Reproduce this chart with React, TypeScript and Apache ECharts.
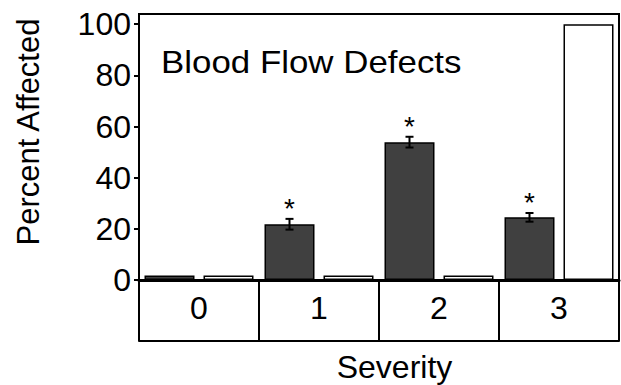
import React, { useEffect, useRef } from "react";
import * as echarts from "echarts";

const categories = ["0", "1", "2", "3"];
const darkValues = [1.8, 21.8, 53.9, 24.5];
const darkErrors = [0, 2.1, 2.1, 1.7];
const significant = [false, true, true, true];
const whiteValues = [1.8, 1.8, 1.8, 100];

const FONT = "'Liberation Sans', Arial, Helvetica, sans-serif";
const BAR_W = 50;
const GAP_RATIO = 0.18;

export default function App() {
  const ref = useRef<HTMLDivElement>(null);
  useEffect(() => {
    if (!ref.current) return;
    const chart = echarts.init(ref.current, undefined, { renderer: "svg" });
    const errData = darkValues.map((v, i) => [i, v, darkErrors[i], significant[i] ? 1 : 0]);
    chart.setOption({
      animation: false,
      grid: {
        left: 139,
        right: 2,
        top: 14,
        bottom: 105,
        show: true,
        borderColor: "#000",
        borderWidth: 2,
        backgroundColor: "transparent",
      },
      xAxis: [
        {
          type: "category",
          data: categories,
          axisLine: { show: true, lineStyle: { color: "#000", width: 3 } },
          axisTick: {
            show: true,
            interval: 0,
            alignWithLabel: false,
            inside: false,
            length: 61,
            lineStyle: { color: "#000", width: 2 },
          },
          axisLabel: { fontSize: 32, color: "#000", fontFamily: FONT, margin: 12 },
          splitLine: { show: false },
        },
        {
          type: "category",
          data: categories,
          position: "bottom",
          offset: 61,
          axisLine: { show: true, lineStyle: { color: "#000", width: 2 } },
          axisTick: { show: false },
          axisLabel: { show: false },
          splitLine: { show: false },
        },
      ],
      yAxis: {
        type: "value",
        min: 0,
        max: 104,
        interval: 20,
        axisLine: { show: true, lineStyle: { color: "#000", width: 2 } },
        axisTick: { show: true, length: 5, lineStyle: { color: "#000", width: 2 } },
        axisLabel: {
          fontSize: 32,
          color: "#000",
          fontFamily: FONT,
          margin: 8,
          showMaxLabel: false,
          formatter: (v: number) => (v % 20 === 0 ? String(v) : ""),
        },
        splitLine: { show: false },
      },
      series: [
        {
          type: "bar",
          data: darkValues,
          barWidth: BAR_W,
          barGap: GAP_RATIO * 100 + "%",
          itemStyle: { color: "#404040", borderColor: "#000", borderWidth: 1.5 },
        },
        {
          type: "bar",
          data: whiteValues,
          barWidth: BAR_W,
          itemStyle: { color: "#fff", borderColor: "#000", borderWidth: 1.5 },
        },
        {
          type: "custom",
          data: errData,
          encode: { x: 0, y: 1 },
          z: 5,
          renderItem: (params: any, api: any) => {
            const idx = api.value(0);
            const val = api.value(1);
            const err = api.value(2);
            const sig = api.value(3);
            const c = api.coord([idx, val]);
            const x = c[0] - (BAR_W * (1 + GAP_RATIO)) / 2;
            const top = api.coord([idx, val + err])[1];
            const bot = api.coord([idx, val - err])[1];
            const children: any[] = [];
            if (err > 0) {
              const st = { stroke: "#000", lineWidth: 2 };
              children.push({ type: "line", shape: { x1: x, y1: top, x2: x, y2: bot }, style: st });
              children.push({ type: "line", shape: { x1: x - 4, y1: top, x2: x + 4, y2: top }, style: st });
              children.push({ type: "line", shape: { x1: x - 4, y1: bot, x2: x + 4, y2: bot }, style: st });
            }
            if (sig) {
              children.push({
                type: "text",
                style: {
                  text: "*",
                  x: x,
                  y: top - 10,
                  align: "center",
                  verticalAlign: "middle",
                  fontSize: 28,
                  fontFamily: FONT,
                  fill: "#000",
                },
              });
            }
            return { type: "group", children };
          },
        },
      ],
      graphic: [
        {
          type: "text",
          x: 161,
          y: 46,
          scaleX: 1.09,
          style: { text: "Blood Flow Defects", fontSize: 32, fontFamily: FONT, fill: "#000" },
        },
        {
          type: "text",
          x: 28,
          y: 132,
          rotation: Math.PI / 2,
          style: {
            text: "Percent Affected",
            fontSize: 31,
            fontFamily: FONT,
            fill: "#000",
            align: "center",
            verticalAlign: "middle",
          },
        },
        {
          type: "text",
          x: 394.5,
          y: 366.5,
          style: {
            text: "Severity",
            fontSize: 32,
            fontFamily: FONT,
            fill: "#000",
            align: "center",
            verticalAlign: "middle",
          },
        },
      ],
    });
    return () => chart.dispose();
  }, []);
  return (
    <div
      ref={ref}
      style={{ position: "fixed", left: 0, top: 0, width: 621, height: 385, background: "#fff" }}
    />
  );
}
